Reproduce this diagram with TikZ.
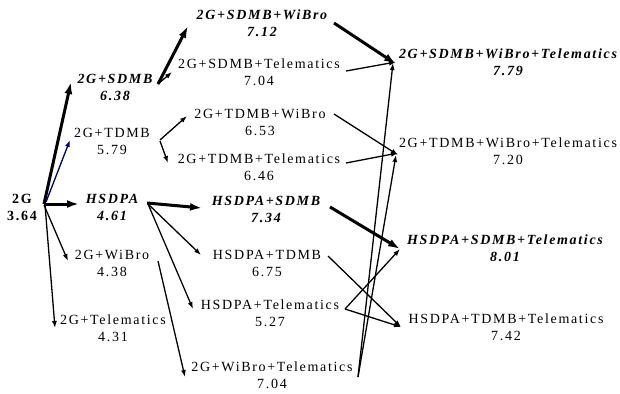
\documentclass[tikz,border=0pt]{standalone}
\usepackage{fontspec}
\setmainfont{Liberation Serif}[LetterSpace=12]
\usetikzlibrary{arrows.meta,calc}
\begin{document}
\begin{tikzpicture}[x=1pt,y=-1pt,
  lbl/.style={align=center,inner sep=0pt,font=\fontsize{14}{17}\selectfont},
  hl/.style={align=center,inner sep=0pt,font=\fontsize{14}{17}\selectfont\bfseries\itshape},
  rootlbl/.style={align=center,inner sep=0pt,font=\fontsize{14}{17}\selectfont\bfseries},
  lnk/.style={line width=1.3pt,-{Latex[length=7pt,width=5pt]}},
  blnk/.style={line width=3pt,-{Latex[length=12pt,width=8pt]}}]
\path[use as bounding box] (0,0) rectangle (620,393);

\node[rootlbl] (g) at (22,207) {2G\\3.64};
\node[hl] (sdmb) at (115,87) {2G+SDMB\\6.38};
\node[lbl] (tdmb) at (112,141) {2G+TDMB\\5.79};
\node[hl] (hsdpa) at (112,207) {HSDPA\\4.61};
\node[lbl] (wibro) at (112,263) {2G+WiBro\\4.38};
\node[lbl] (tel) at (113,328) {2G+Telematics\\4.31};

\node[hl] (sw) at (262,23) {2G+SDMB+WiBro\\7.12};
\node[lbl] (st) at (259,72) {2G+SDMB+Telematics\\7.04};
\node[lbl] (tw) at (260,122) {2G+TDMB+WiBro\\6.53};
\node[lbl] (tt) at (259,167) {2G+TDMB+Telematics\\6.46};
\node[hl] (hs) at (266,209) {HSDPA+SDMB\\7.34};
\node[lbl] (ht) at (267,263) {HSDPA+TDMB\\6.75};
\node[lbl] (hte) at (270,313) {HSDPA+Telematics\\5.27};
\node[lbl] (wt) at (272,375) {2G+WiBro+Telematics\\7.04};

\node[hl] (swt) at (508,62) {2G+SDMB+WiBro+Telematics\\7.79};
\node[lbl] (twt) at (508,151) {2G+TDMB+WiBro+Telematics\\7.20};
\node[hl] (hst) at (505,248) {HSDPA+SDMB+Telematics\\8.01};
\node[lbl] (htt) at (506,327) {HSDPA+TDMB+Telematics\\7.42};

% from 2G
\draw[blnk] ($(g)+(22,-3)$) -- ($(sdmb)+(-44,-5)$);
\draw[lnk,draw=blue!40!black,fill=blue!40!black] ($(g)+(24,-5)$) -- ($(tdmb)+(-42,-1)$);
\draw[blnk] ($(g)+(22,-3)$) -- ($(hsdpa)+(-33,-3)$);
\draw[lnk] ($(g)+(22,-2)$) -- ($(wibro)+(-44,-2)$);
\draw[lnk] ($(g)+(23,-2)$) -- ($(tel)+(-58,0)$);
% second level
\draw[blnk] ($(sdmb)+(43,-3)$) -- ($(sw)+(-74,3)$);
\draw[lnk] ($(sdmb)+(43,-3)$) -- ($(st)+(-87,0)$);
\draw[lnk] ($(tdmb)+(48,-1)$) -- ($(tw)+(-73,-6)$);
\draw[lnk] ($(tdmb)+(48,0)$) -- ($(tt)+(-91,-4)$);
\draw[blnk] ($(hsdpa)+(35,-4)$) -- ($(hs)+(-64,-1)$);
\draw[lnk] ($(hsdpa)+(36,-3)$) -- ($(ht)+(-66,-8)$);
\draw[lnk] ($(hsdpa)+(36,-3)$) -- ($(hte)+(-77,-4)$);
\draw[lnk] ($(wibro)+(46,-2)$) -- ($(wt)+(-87,2)$);
% third level
\draw[blnk] ($(sw)+(72,0)$) -- ($(swt)+(-112,2)$);
\draw[lnk] ($(st)+(87,-1)$) -- ($(swt)+(-112,0)$);
\draw[lnk] ($(tw)+(74,-8)$) -- ($(twt)+(-110,4)$);
\draw[lnk] ($(tt)+(87,-4)$) -- ($(twt)+(-110,2)$);
\draw[blnk] ($(hs)+(64,-2)$) -- ($(hst)+(-105,1)$);
\draw[lnk] ($(ht)+(61,-7)$) -- ($(htt)+(-105,0)$);
\draw[lnk] ($(hte)+(75,-4)$) -- ($(hst)+(-105,1)$);
\draw[lnk] ($(hte)+(75,-4)$) -- ($(htt)+(-105,0)$);
\draw[lnk] ($(wt)+(86,2)$) -- ($(swt)+(-115,1)$);
\draw[lnk] ($(wt)+(86,2)$) -- ($(twt)+(-112,4)$);
\end{tikzpicture}
\end{document}
